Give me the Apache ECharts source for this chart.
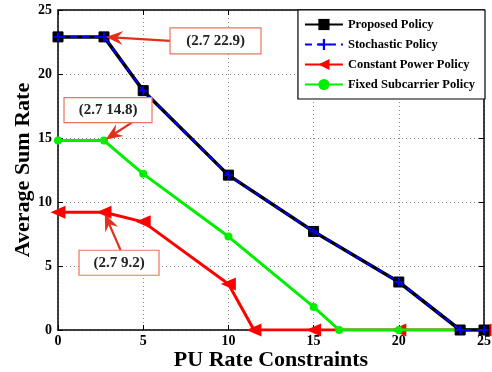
<!DOCTYPE html>
<html>
<head>
<meta charset="utf-8">
<script src="https://cdn.jsdelivr.net/npm/echarts@6/dist/echarts.min.js"></script>
<style>
  html, body { margin: 0; padding: 0; background: #fff; }
  #chart { width: 492px; height: 372px; }
</style>
</head>
<body>
<div id="chart"></div>
<script>
// Average sum rate versus PU rate constraint for four allocation policies
const seriesNames = ['Proposed Policy', 'Stochastic Policy', 'Constant Power Policy', 'Fixed Subcarrier Policy'];

const proposedX = [0, 2.7, 5, 10, 15, 20, 23.6, 25];
const proposedY = [22.9, 22.9, 18.7, 12.1, 7.7, 3.75, 0, 0];

const stochasticX = [0, 2.7, 5, 10, 15, 20, 23.6, 25];
const stochasticY = [22.9, 22.9, 18.7, 12.1, 7.7, 3.75, 0, 0];

const constantX = [0, 2.7, 5, 10, 11.5, 15, 20, 25];
const constantY = [9.2, 9.2, 8.45, 3.6, 0, 0, 0, 0];

const fixedX = [0, 2.7, 5, 10, 15, 16.5, 20, 25];
const fixedY = [14.8, 14.8, 12.2, 7.3, 1.8, 0, 0, 0];

const xTicks = [0, 5, 10, 15, 20, 25];
const yTicks = [0, 5, 10, 15, 20, 25];

// Data tips: [x, y, label]
const tips = [
  [2.7, 22.9, '(2.7 22.9)'],
  [2.7, 14.8, '(2.7 14.8)'],
  [2.7, 9.2, '(2.7 9.2)']
];

const pairs = (xs, ys) => xs.map((x, i) => [x, ys[i]]);
const FONT = '"Liberation Serif", "DejaVu Serif", serif';
const plusPath = 'path://M4,0H6V4H10V6H6V10H4V6H0V4H4Z';

const chart = echarts.init(document.getElementById('chart'), null, { renderer: 'canvas' });

const axisCommon = {
  min: xTicks[0], max: xTicks[xTicks.length - 1], interval: xTicks[1] - xTicks[0],
  axisLine: { show: true, onZero: false, lineStyle: { color: '#000', width: 1.5 } },
  axisTick: { show: true, inside: true, length: 5, lineStyle: { color: '#000' } },
  splitLine: { show: true, lineStyle: { color: '#888', type: [1, 3], width: 1 } },
  axisLabel: { color: '#000', fontFamily: FONT, fontWeight: 'bold', fontSize: 14, margin: 6 }
};

chart.setOption({
  animation: false,
  backgroundColor: '#fff',
  grid: { left: 58, right: 8, top: 10, bottom: 42, show: false, containLabel: false, outerBoundsMode: 'none' },
  legend: {
    right: 7, top: 10,
    orient: 'vertical',
    backgroundColor: '#fff',
    borderColor: '#000', borderWidth: 1.2, borderRadius: 0,
    padding: [8, 10, 8, 6],
    itemGap: 7, itemWidth: 38, itemHeight: 14,
    textStyle: { fontFamily: FONT, fontWeight: 'bold', fontSize: 12.5, color: '#000' },
    data: seriesNames
  },
  xAxis: [
    Object.assign({ type: 'value', position: 'bottom',
      name: 'PU Rate Constraints', nameLocation: 'middle', nameGap: 19, nameMoveOverlap: false,
      nameTextStyle: { fontFamily: FONT, fontWeight: 'bold', fontSize: 22, color: '#000' }
    }, axisCommon, { axisLabel: Object.assign({}, axisCommon.axisLabel, { margin: 4 }) }),
    Object.assign({}, axisCommon, { type: 'value', position: 'top', axisLabel: { show: false }, splitLine: { show: false } })
  ],
  yAxis: [
    Object.assign({ type: 'value', position: 'left',
      name: 'Average Sum Rate', nameLocation: 'middle', nameGap: 24, nameMoveOverlap: false,
      nameTextStyle: { fontFamily: FONT, fontWeight: 'bold', fontSize: 22, color: '#000' }
    }, axisCommon, { min: yTicks[0], max: yTicks[yTicks.length - 1], interval: yTicks[1] - yTicks[0] }),
    Object.assign({}, axisCommon, { type: 'value', position: 'right', axisLabel: { show: false }, splitLine: { show: false } })
  ],
  series: [
    {
      name: seriesNames[2], type: 'line', data: pairs(constantX, constantY), z: 2,
      lineStyle: { color: '#ff0000', width: 3 },
      itemStyle: { color: '#ff0000' },
      symbol: 'triangle', symbolRotate: 90, symbolSize: [13, 15], showSymbol: true
    },
    {
      name: seriesNames[3], type: 'line', data: pairs(fixedX, fixedY), z: 3,
      lineStyle: { color: '#00ee00', width: 3 },
      itemStyle: { color: '#00ee00' },
      symbol: 'circle', symbolSize: 8
    },
    {
      name: seriesNames[0], type: 'line', data: pairs(proposedX, proposedY), z: 4,
      lineStyle: { color: '#000', width: 3.5 },
      itemStyle: { color: '#000', borderColor: '#000' },
      symbol: 'rect', symbolSize: 10
    },
    {
      name: seriesNames[1], type: 'line', data: pairs(stochasticX, stochasticY), z: 5,
      lineStyle: { color: '#0000ff', width: 2, type: [7, 5] },
      itemStyle: { color: '#0000ff' },
      symbol: plusPath, symbolSize: 9
    }
  ]
});

// Data-tip boxes with arrows pointing at their points; box offsets in pixels
const boxOffsets = [
  { dx: 66, dy: -9, w: 91, h: 26, ax: 0, ay: 0.5 },
  { dx: -40, dy: -43, w: 88, h: 25, ax: 0.77, ay: 1 },
  { dx: -25, dy: 38, w: 80, h: 25, ax: 0.52, ay: 0 }
];

const graphics = [];
tips.forEach((t, i) => {
  const p = chart.convertToPixel({ xAxisIndex: 0, yAxisIndex: 0 }, [t[0], t[1]]);
  const o = boxOffsets[i];
  const bx = p[0] + o.dx, by = p[1] + o.dy;
  const sx = bx + o.w * o.ax, sy = by + o.h * o.ay;
  const ang = Math.atan2(p[1] - sy, p[0] - sx);
  const c = Math.cos(ang), s = Math.sin(ang);
  const tipX = p[0] - c * 2, tipY = p[1] - s * 2;
  const hl = 15, hw = 7;
  const baseX = tipX - c * hl, baseY = tipY - s * hl;
  // arrow shaft
  graphics.push({
    type: 'line', z: 100,
    shape: { x1: sx, y1: sy, x2: baseX + c * 4, y2: baseY + s * 4 },
    style: { stroke: '#e0301a', lineWidth: 2.2 }
  });
  // arrow head
  graphics.push({
    type: 'polygon', z: 100,
    shape: { points: [
      [tipX, tipY],
      [baseX - s * hw - c * 2, baseY + c * hw - s * 2],
      [baseX + c * 4, baseY + s * 4],
      [baseX + s * hw - c * 2, baseY - c * hw - s * 2]
    ] },
    style: { fill: '#e0301a' }
  });
  graphics.push({
    type: 'rect', z: 101,
    shape: { x: bx, y: by, width: o.w, height: o.h },
    style: { fill: '#fff', stroke: '#e8755f', lineWidth: 1.2 }
  });
  graphics.push({
    type: 'text', z: 102,
    x: bx + o.w / 2, y: by + o.h / 2,
    style: { text: t[2], fill: '#222', font: 'bold 15px ' + FONT, align: 'center', verticalAlign: 'middle' }
  });
});
chart.setOption({ graphic: graphics });
</script>
</body>
</html>
